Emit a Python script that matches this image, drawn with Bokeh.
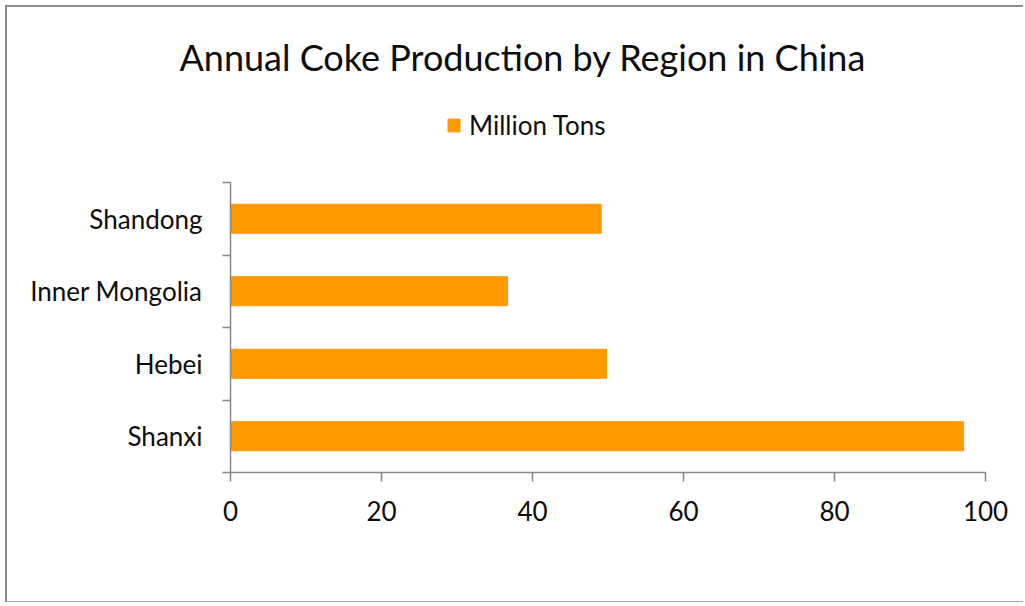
from bokeh.plotting import figure
from bokeh.models import (Range1d, FixedTicker, Legend, LegendItem, Title,
                          ColumnDataSource)
from bokeh.embed import file_html
from bokeh.resources import INLINE

# ---- data ----
regions = ["Shanxi", "Hebei", "Inner Mongolia", "Shandong"]   # bottom to top
production = [97.1, 49.8, 36.7, 49.1]                          # million tons
x_ticks = [0, 20, 40, 60, 80, 100]
title_text = "Annual Coke Production by Region in China"
series_name = "Million Tons"

FONT = "Lato"
BAR = "#FF9900"
AXIS = "#868686"
TXT = "#0d0d0d"

n = len(regions)
pos = [i + 0.5 for i in range(n)]
src = ColumnDataSource(dict(y=pos, right=production, region=regions))

# frame reaches up to the legend; the category axis itself is bounded
TOP = 90
BOTTOM = 132
H = 597
FRAME_H = H - TOP - BOTTOM     # px
BAND_H = 290                   # px, height of the category area
y_top = n * FRAME_H / BAND_H

p = figure(width=1018, height=H, output_backend="svg", toolbar_location=None,
           title=None,
           x_range=Range1d(0, 100), y_range=Range1d(0, y_top),
           min_border_left=223, min_border_right=40,
           min_border_top=TOP, min_border_bottom=BOTTOM,
           styles={"margin-left": "5px", "margin-top": "5px",
                   "border-left": "2px solid #8c8c8c",
                   "border-top": "2px solid #8c8c8c",
                   "border-bottom": "1px solid #a0a0a0",
                   "border-right": "0px none white",
                   "outline": "none", "box-shadow": "none"})
p.background_fill_color = "white"
p.border_fill_color = "white"
p.outline_line_color = None
p.xgrid.visible = False
p.ygrid.visible = False

r = p.hbar(y="y", right="right", left=0, height=0.4, source=src,
           fill_color=BAR, line_color=BAR, line_width=1)

# x axis
xa = p.xaxis[0]
xa.ticker = FixedTicker(ticks=x_ticks)
xa.axis_line_color = AXIS
xa.axis_line_width = 1.5
xa.major_tick_line_color = AXIS
xa.major_tick_line_width = 1.5
xa.major_tick_out = 9
xa.major_tick_in = 0
xa.minor_tick_line_color = None
xa.major_label_text_font = FONT
xa.major_label_text_font_size = "26px"
xa.major_label_text_color = TXT
xa.major_label_standoff = 19

# y axis: labels at band centres, ticks at band boundaries
ya = p.yaxis[0]
ya.bounds = (0, n)
ya.ticker = FixedTicker(ticks=pos, minor_ticks=list(range(n + 1)))
ya.major_label_overrides = {pv: name for pv, name in zip(pos, regions)}
ya.axis_line_color = AXIS
ya.axis_line_width = 1.5
ya.major_tick_line_color = None
ya.major_tick_out = 0
ya.major_tick_in = 0
ya.minor_tick_line_color = AXIS
ya.minor_tick_line_width = 1.5
ya.minor_tick_out = 8
ya.minor_tick_in = 0
ya.major_label_text_font = FONT
ya.major_label_text_font_size = "26px"
ya.major_label_text_color = TXT
ya.major_label_standoff = 20

# legend (inside the frame, above the bars)
leg = Legend(items=[LegendItem(label=series_name, renderers=[r])],
             location=(216, 331), orientation="horizontal",
             padding=0, margin=0, border_line_color=None,
             background_fill_alpha=0, glyph_width=15, glyph_height=16,
             label_standoff=8, label_text_font=FONT,
             label_text_font_size="26px", label_text_color=TXT)
p.add_layout(leg, "center")

# title in the panel above the frame
p.add_layout(Title(text=title_text, align="left", offset=-51, standoff=38,
                   text_font=FONT, text_font_size="36px",
                   text_font_style="normal", text_color=TXT), "above")

open("out.html", "w").write(file_html(p, INLINE))
